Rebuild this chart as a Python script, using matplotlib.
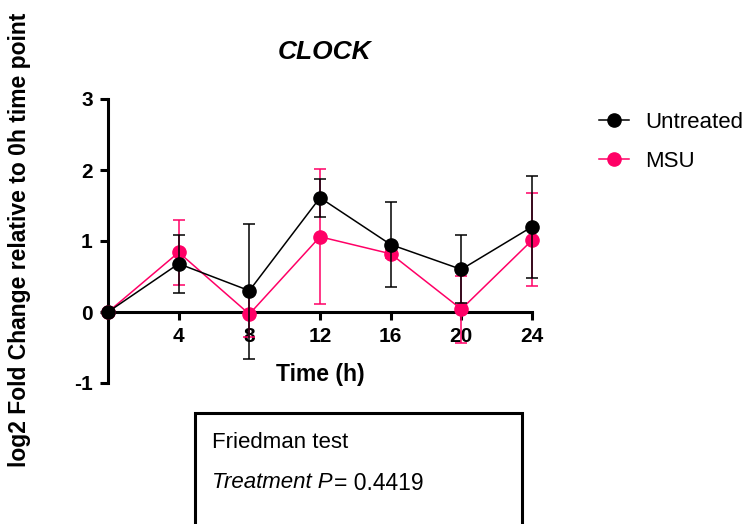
import matplotlib
matplotlib.use("Agg")
import matplotlib.pyplot as plt
import numpy as np
from matplotlib.patches import Rectangle
from matplotlib.lines import Line2D

plt.rcParams['font.family'] = ['Liberation Sans', 'DejaVu Sans']
plt.rcParams['axes.unicode_minus'] = False

time_h = [0, 4, 8, 12, 16, 20, 24]
untreated = [0.0, 0.68, 0.30, 1.61, 0.95, 0.60, 1.20]
untreated_lo = [0.0, 0.27, -0.66, 1.34, 0.35, 0.12, 0.48]
untreated_hi = [0.0, 1.09, 1.24, 1.88, 1.55, 1.08, 1.92]
msu = [0.0, 0.84, -0.03, 1.06, 0.82, 0.04, 1.01]
msu_lo = [0.0, 0.38, -0.35, 0.11, 0.76, -0.43, 0.36]
msu_hi = [0.0, 1.30, 0.29, 2.01, 0.88, 0.51, 1.67]
x_ticks = [4, 8, 12, 16, 20, 24]
y_ticks = [-1, 0, 1, 2, 3]

BLACK = '#000000'
PINK = '#FF0066'

fig = plt.figure(figsize=(7.46, 5.24), dpi=100)
ax = fig.add_axes([108/746, 1-383/524, (532-108)/746, (383-99)/524])

def series(vals, lo, hi, color, z):
    vals = np.array(vals); lo = np.array(lo); hi = np.array(hi)
    yerr = np.vstack([vals - lo, hi - vals])
    ax.errorbar(time_h, vals, yerr=yerr, color=color, ecolor=color, elinewidth=1.1,
                capsize=4, capthick=1.1, lw=1.1, marker='o', markersize=9.5,
                markerfacecolor=color, markeredgecolor=color, clip_on=False,
                zorder=z)

series(msu, msu_lo, msu_hi, PINK, 3)
series(untreated, untreated_lo, untreated_hi, BLACK, 4)

ax.set_xlim(0, 24)
ax.set_ylim(-1, 3)
ax.spines['top'].set_visible(False)
ax.spines['right'].set_visible(False)
ax.spines['bottom'].set_position(('data', 0))
for s in ['left', 'bottom']:
    ax.spines[s].set_linewidth(2.2)
ax.set_xticks(x_ticks)
ax.set_yticks(y_ticks)
ax.tick_params(axis='both', direction='out', length=6, width=2.2, labelsize=15, pad=5)
for lab in ax.get_xticklabels() + ax.get_yticklabels():
    lab.set_fontweight('bold')

fig.text(320/746, 1-375/524, 'Time (h)', fontsize=16.5, fontweight='bold', ha='center', va='center')
fig.text(325/746, 1-52/524, 'CLOCK', fontsize=19, fontweight='bold', fontstyle='italic',
         ha='center', va='center')
fig.text(20/746, 1-240/524, 'log2 Fold Change relative to 0h time point', fontsize=16.5,
         fontweight='bold', rotation=90, ha='center', va='center')

handles = [Line2D([], [], color=BLACK, lw=1.1, marker='o', markersize=9.5),
           Line2D([], [], color=PINK, lw=1.1, marker='o', markersize=9.5)]
fig.legend(handles, ['Untreated', 'MSU'], loc='upper left', bbox_to_anchor=(590/746, 1-103/524),
           frameon=False, fontsize=16, handlelength=1.35, handletextpad=0.75, labelspacing=0.8,
           borderaxespad=0)

rect = Rectangle((195/746, 1-600/524), (522-195)/746, (600-413)/524, transform=fig.transFigure,
                 fill=False, edgecolor='black', linewidth=2.2, clip_on=False)
fig.patches.append(rect)
fig.text(212/746, 1-443/524, 'Friedman test', fontsize=16, ha='left', va='center')
t1 = fig.text(212/746, 1-483/524, 'Treatment P', fontsize=16, fontstyle='italic', ha='left', va='center')
fig.canvas.draw()
bb = t1.get_window_extent()
fig.text(bb.x1/746 + 1/746, 1-483/524, '= 0.4419', fontsize=16.5, ha='left', va='center')

fig.savefig('out.png', dpi=100)
